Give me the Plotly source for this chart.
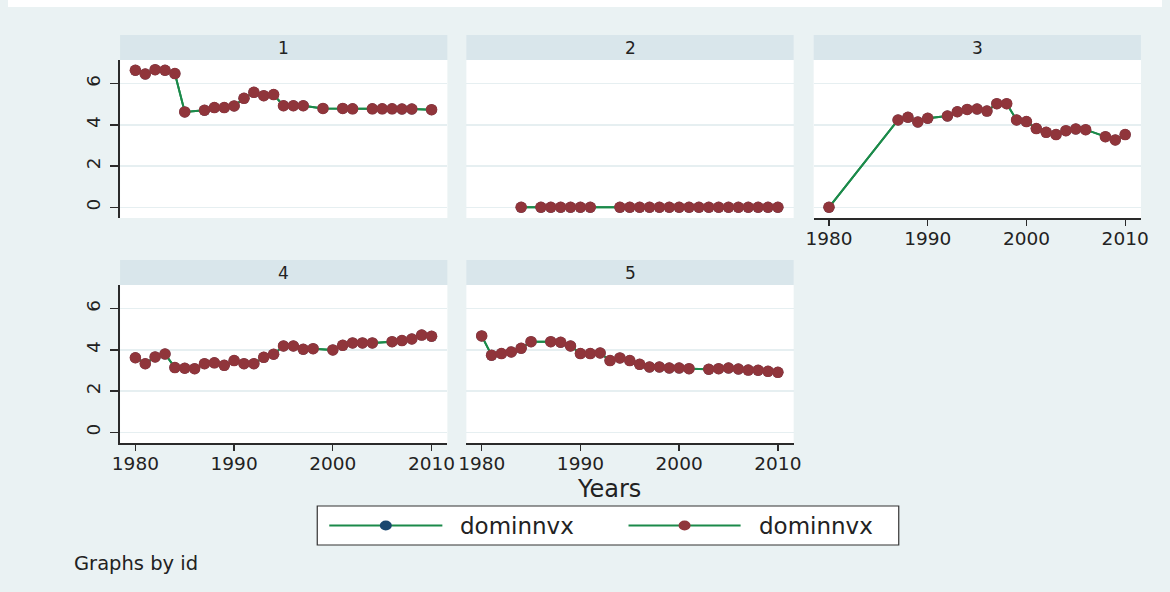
import plotly.graph_objects as go

# ---------------- data ----------------
p1_years = [1980, 1981, 1982, 1983, 1984, 1985, 1987, 1988, 1989, 1990, 1991, 1992, 1993,
            1994, 1995, 1996, 1997, 1999, 2001, 2002, 2004, 2005, 2006, 2007, 2008, 2010]
p1_vals = [6.65, 6.47, 6.68, 6.65, 6.49, 4.63, 4.71, 4.84, 4.84, 4.92, 5.29, 5.58, 5.42,
           5.47, 4.93, 4.93, 4.93, 4.80, 4.80, 4.78, 4.78, 4.78, 4.78, 4.77, 4.77, 4.74]

p2_years = [1984, 1986, 1987, 1988, 1989, 1990, 1991, 1994, 1995, 1996, 1997, 1998, 1999,
            2000, 2001, 2002, 2003, 2004, 2005, 2006, 2007, 2008, 2009, 2010]
p2_vals = [0, 0, 0, 0, 0, 0, 0, 0, 0, 0, 0, 0, 0,
           0, 0, 0, 0, 0, 0, 0, 0, 0, 0, 0]

p3_years = [1980, 1987, 1988, 1989, 1990, 1992, 1993, 1994, 1995, 1996, 1997, 1998, 1999,
            2000, 2001, 2002, 2003, 2004, 2005, 2006, 2008, 2009, 2010]
p3_vals = [0.0, 4.24, 4.37, 4.14, 4.32, 4.43, 4.64, 4.75, 4.77, 4.67, 5.03, 5.03, 4.24,
           4.16, 3.82, 3.64, 3.53, 3.72, 3.80, 3.77, 3.43, 3.27, 3.53]

p4_years = [1980, 1981, 1982, 1983, 1984, 1985, 1986, 1987, 1988, 1989, 1990, 1991, 1992,
            1993, 1994, 1995, 1996, 1997, 1998, 2000, 2001, 2002, 2003, 2004, 2006, 2007,
            2008, 2009, 2010]
p4_vals = [3.62, 3.33, 3.66, 3.80, 3.14, 3.11, 3.09, 3.33, 3.37, 3.25, 3.48, 3.33, 3.33,
           3.64, 3.79, 4.19, 4.19, 4.03, 4.06, 4.00, 4.22, 4.34, 4.34, 4.34, 4.40, 4.45,
           4.53, 4.72, 4.66]

p5_years = [1980, 1981, 1982, 1983, 1984, 1985, 1987, 1988, 1989, 1990, 1991, 1992, 1993,
            1994, 1995, 1996, 1997, 1998, 1999, 2000, 2001, 2003, 2004, 2005, 2006, 2007,
            2008, 2009, 2010]
p5_vals = [4.68, 3.74, 3.82, 3.90, 4.08, 4.40, 4.40, 4.37, 4.19, 3.82, 3.82, 3.85, 3.48,
           3.61, 3.48, 3.30, 3.17, 3.17, 3.12, 3.12, 3.09, 3.06, 3.09, 3.12, 3.07, 3.02,
           3.01, 2.96, 2.91]

panel_labels = ["1", "2", "3", "4", "5"]
x_ticks = [1980, 1990, 2000, 2010]
y_ticks = [0, 2, 4, 6]
series_name = "dominnvx"
x_title = "Years"
note_text = "Graphs by id"

# ---------------- style ----------------
W, H = 1170, 592
FONT = "DejaVu Sans"
BG = "#eaf2f3"
STRIP = "#d9e6eb"
GRID = "#e6eff1"
LINE_C = "#1b8a4a"
MAROON = "#90353b"
NAVY = "#1a476f"
AXIS_C = "#2a2a2a"
TXT = "#222222"

# the page is photographed with a small horizontal inset; map target pixel
# positions into figure paper coordinates accordingly
X_OFF, X_SCALE = 8.0, 0.9855


def fx(px):
    return ((px - X_OFF) / X_SCALE) / W


def fy(py):
    return 1 - py / H


cols = [(120, 447), (466, 793), (813, 1140)]
rows = [(60, 218), (285, 443)]
strip_h = 25
# panel -> (row, col, show_x_axis, show_y_axis)
layout_map = [(0, 0, False, True), (0, 1, False, False), (0, 2, True, False),
              (1, 0, True, True), (1, 1, True, False)]
panels = [(p1_years, p1_vals), (p2_years, p2_vals), (p3_years, p3_vals),
          (p4_years, p4_vals), (p5_years, p5_vals)]

fig = go.Figure()
shapes = []
annotations = []
layout = {}

for i, ((yrs, vals), (r, c, showx, showy)) in enumerate(zip(panels, layout_map)):
    n = i + 1
    xa = "x" if n == 1 else f"x{n}"
    ya = "y" if n == 1 else f"y{n}"
    # first series (navy) lies under the visible maroon series
    fig.add_trace(go.Scatter(x=yrs, y=vals, mode="lines+markers", xaxis=xa, yaxis=ya,
                             line=dict(color=LINE_C, width=2),
                             marker=dict(color=NAVY, size=11),
                             showlegend=False, name=series_name, hoverinfo="skip"))
    fig.add_trace(go.Scatter(x=yrs, y=vals, mode="lines+markers", xaxis=xa, yaxis=ya,
                             line=dict(color=LINE_C, width=2),
                             marker=dict(color=MAROON, size=11.5),
                             showlegend=False, name=series_name, hoverinfo="skip"))
    x0, x1 = cols[c]
    y0, y1 = rows[r]
    xkey = "xaxis" if n == 1 else f"xaxis{n}"
    ykey = "yaxis" if n == 1 else f"yaxis{n}"
    layout[xkey] = dict(domain=[fx(x0), fx(x1)], range=[1978.45, 2011.6], anchor=ya,
                        tickvals=x_ticks, showticklabels=showx, showline=showx,
                        linecolor=AXIS_C, linewidth=1.5,
                        ticks="outside" if showx else "", ticklen=6, tickwidth=1.3,
                        tickcolor=AXIS_C, showgrid=False, zeroline=False,
                        ticklabelstandoff=-3,
                        tickfont=dict(family=FONT, size=18.5, color=TXT), fixedrange=True)
    layout[ykey] = dict(domain=[fy(y1), fy(y0)], range=[-0.52, 7.15], anchor=xa,
                        tickvals=y_ticks, showticklabels=showy, showline=showy,
                        linecolor=AXIS_C, linewidth=1.8,
                        ticks="outside" if showy else "", ticklen=8, tickwidth=1.3,
                        tickcolor=AXIS_C, showgrid=True, gridcolor=GRID, gridwidth=1.5,
                        zeroline=False, tickangle=-90, ticklabelstandoff=3,
                        tickfont=dict(family=FONT, size=18.5, color=TXT), fixedrange=True)
    # strip
    shapes.append(dict(type="rect", xref="paper", yref="paper", layer="below",
                       x0=fx(x0), x1=fx(x1), y0=fy(y0), y1=fy(y0 - strip_h),
                       fillcolor=STRIP, line=dict(width=0)))
    annotations.append(dict(xref="paper", yref="paper", x=fx((x0 + x1) / 2),
                            y=fy(y0 - strip_h / 2), text=panel_labels[i], showarrow=False,
                            xanchor="center", yanchor="middle",
                            font=dict(family=FONT, size=17, color=TXT)))

# white border at the top of the reference picture
shapes.append(dict(type="rect", xref="paper", yref="paper", x0=0, x1=1, y0=fy(7), y1=1,
                   fillcolor="white", line=dict(width=0), layer="below"))

# x title
annotations.append(dict(xref="paper", yref="paper", x=fx(608), y=fy(489), text=x_title,
                        showarrow=False, xanchor="center", yanchor="middle",
                        font=dict(family=FONT, size=24, color=TXT)))

# legend (manual, Stata style)
shapes.append(dict(type="rect", xref="paper", yref="paper", x0=fx(317), x1=fx(898),
                   y0=fy(545), y1=fy(506), fillcolor="white",
                   line=dict(color="#333333", width=1.2), layer="above"))
leg_y = 525.5
for (lx0, lx1, mx, tx, mcol) in [(329, 442, 385.5, 458, NAVY), (628, 740, 684, 756, MAROON)]:
    shapes.append(dict(type="line", xref="paper", yref="paper", x0=fx(lx0), x1=fx(lx1),
                       y0=fy(leg_y), y1=fy(leg_y), line=dict(color=LINE_C, width=2),
                       layer="above"))
    shapes.append(dict(type="circle", xref="paper", yref="paper", x0=fx(mx - 6),
                       x1=fx(mx + 6), y0=fy(leg_y + 5), y1=fy(leg_y - 5),
                       fillcolor=mcol, line=dict(width=0), layer="above"))
    annotations.append(dict(xref="paper", yref="paper", x=fx(tx), y=fy(leg_y),
                            text=series_name, showarrow=False, xanchor="left",
                            yanchor="middle", font=dict(family=FONT, size=23, color=TXT)))

annotations.append(dict(xref="paper", yref="paper", x=fx(72), y=fy(563), text=note_text,
                        showarrow=False, xanchor="left", yanchor="middle",
                        font=dict(family=FONT, size=19.5, color=TXT)))

fig.update_layout(width=W, height=H, autosize=False,
                  margin=dict(l=0, r=0, t=0, b=0, pad=0),
                  paper_bgcolor=BG, plot_bgcolor="white", hovermode=False,
                  showlegend=False, shapes=shapes, annotations=annotations,
                  font=dict(family=FONT, color=TXT), **layout)

fig.write_html("out.html", config={"displayModeBar": False, "staticPlot": True},
               post_script="document.body.style.margin='0';"
                           "document.body.style.overflow='hidden';"
                           "document.body.style.background="
                           "'linear-gradient(to right, #ffffff 50%, #eaf2f3 50%)';")
